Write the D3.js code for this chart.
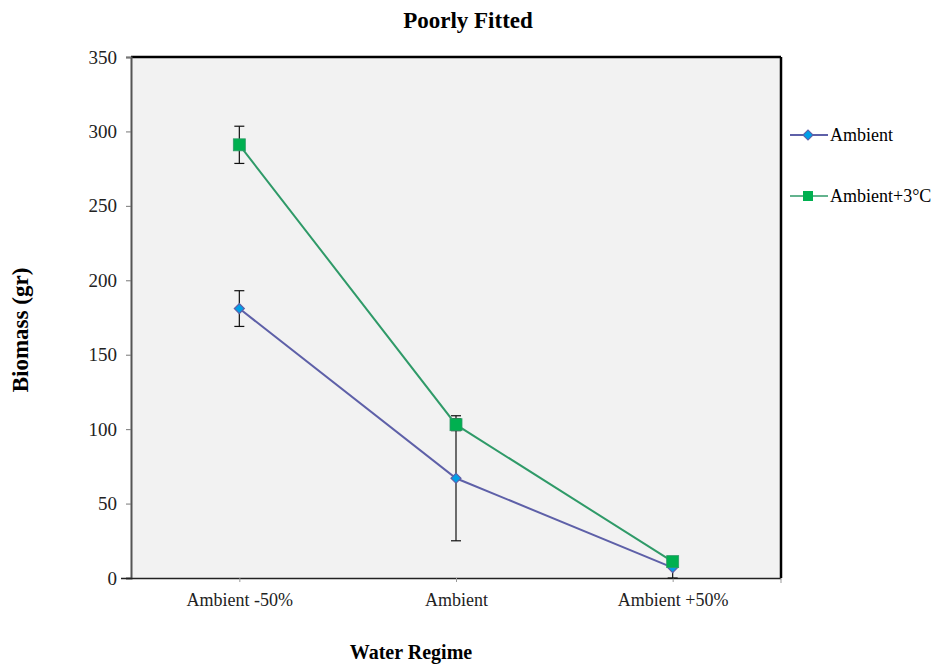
<!DOCTYPE html>
<html><head><meta charset="utf-8">
<script src="https://cdn.jsdelivr.net/npm/d3@7"></script>
<style>body{margin:0;background:#fff}svg{display:block}text{font-family:"Liberation Serif","Times New Roman",serif}</style>
</head><body><svg id="c" width="933" height="666"></svg>
<script>
const categories = ["Ambient -50%", "Ambient", "Ambient +50%"];
const ambient = [181, 67, 7];
const ambientErr = [12, 42, 7];
const warm = [291, 103, 11];
const warmErr = [12.5, 4, 2];
const yTicks = [0, 50, 100, 150, 200, 250, 300, 350];
const seriesNames = ["Ambient", "Ambient+3°C"];

const svg = d3.select("#c");
const L = 131, R = 781, T = 57, B = 578;
const x = d3.scalePoint().domain(categories).range([L, R]).padding(0.5);
const y = d3.scaleLinear().domain([0, 350]).range([B, T]);

svg.append("rect").attr("x", L).attr("y", T).attr("width", R - L).attr("height", B - T).attr("fill", "#f2f2f2");
svg.append("line").attr("x1", L).attr("x2", R).attr("y1", T).attr("y2", T).attr("stroke", "#000").attr("stroke-width", 2.5);
svg.append("line").attr("x1", R).attr("x2", R).attr("y1", T).attr("y2", B).attr("stroke", "#000").attr("stroke-width", 2.5);

const ya = svg.append("g").attr("transform", `translate(${L},0)`)
  .call(d3.axisLeft(y).tickValues(yTicks).tickSize(5).tickPadding(9));
ya.select(".domain").attr("stroke", "#555").attr("stroke-width", 2);
ya.selectAll(".tick line").attr("stroke", "#777");
ya.selectAll("text").attr("font-size", 19).attr("fill", "#222").attr("font-family", "Liberation Serif");

const xa = svg.append("g").attr("transform", `translate(0,${B})`)
  .call(d3.axisBottom(x).tickSize(4).tickPadding(11));
xa.select(".domain").attr("d", `M${L - 10},0.5H${R}`).attr("stroke", "#222").attr("stroke-width", 1.5);
xa.selectAll(".tick line").attr("stroke", "#999");
xa.selectAll("text").attr("font-size", 18).attr("fill", "#222").attr("font-family", "Liberation Serif");
xa.append("line").attr("x1", R).attr("x2", R).attr("y1", 0).attr("y2", 5).attr("stroke", "#999");

const blue = "#5e60a8", green = "#2f9a68";
const line = d3.line().x((d, i) => x(categories[i])).y(d => y(d));

function errs(vals, errv) {
  vals.forEach((v, i) => {
    const cx = x(categories[i]);
    const hi = y(v + errv[i]), lo = y(Math.max(0, v - errv[i]));
    const g = svg.append("g").attr("stroke", "#111").attr("stroke-width", 1.2);
    g.append("line").attr("x1", cx).attr("x2", cx).attr("y1", hi).attr("y2", lo);
    g.append("line").attr("x1", cx - 5).attr("x2", cx + 5).attr("y1", hi).attr("y2", hi);
    g.append("line").attr("x1", cx - 5).attr("x2", cx + 5).attr("y1", lo).attr("y2", lo);
  });
}
errs(ambient, ambientErr);
errs(warm, warmErr);

svg.append("path").attr("d", line(ambient)).attr("fill", "none").attr("stroke", blue).attr("stroke-width", 2);
svg.append("path").attr("d", line(warm)).attr("fill", "none").attr("stroke", green).attr("stroke-width", 2);

function dia(g, cx, cy) {
  g.append("path").attr("d", d3.symbol().type(d3.symbolSquare).size(50)())
    .attr("transform", `translate(${cx},${cy}) rotate(45)`).attr("fill", "#00a0e8").attr("stroke", blue).attr("stroke-width", 1.2);
}
function sq(g, cx, cy) {
  g.append("rect").attr("x", cx - 6).attr("y", cy - 6).attr("width", 12).attr("height", 12)
    .attr("fill", "#00b050").attr("stroke", "#2f9a68").attr("stroke-width", 0.8);
}
ambient.forEach((v, i) => dia(svg, x(categories[i]), y(v)));
warm.forEach((v, i) => sq(svg, x(categories[i]), y(v)));

const lg = svg.append("g");
lg.append("line").attr("x1", 790).attr("x2", 828).attr("y1", 135).attr("y2", 135).attr("stroke", blue).attr("stroke-width", 2);
dia(lg, 808, 135);
lg.append("text").attr("x", 830).attr("y", 141).attr("font-size", 18).text(seriesNames[0]);
lg.append("line").attr("x1", 790).attr("x2", 828).attr("y1", 196).attr("y2", 196).attr("stroke", green).attr("stroke-width", 1.5);
lg.append("rect").attr("x", 803).attr("y", 191).attr("width", 10).attr("height", 10).attr("fill", "#00b050");
lg.append("text").attr("x", 830).attr("y", 202).attr("font-size", 18).text(seriesNames[1]);

svg.append("text").attr("x", 468).attr("y", 28).attr("text-anchor", "middle").attr("font-size", 23).attr("font-weight", "bold").text("Poorly Fitted");
svg.append("text").attr("x", 411).attr("y", 659).attr("text-anchor", "middle").attr("font-size", 20).attr("font-weight", "bold").text("Water Regime");
svg.append("text").attr("transform", "translate(28,330) rotate(-90)").attr("text-anchor", "middle").attr("font-size", 23).attr("font-weight", "bold").text("Biomass (gr)");
</script></body></html>
